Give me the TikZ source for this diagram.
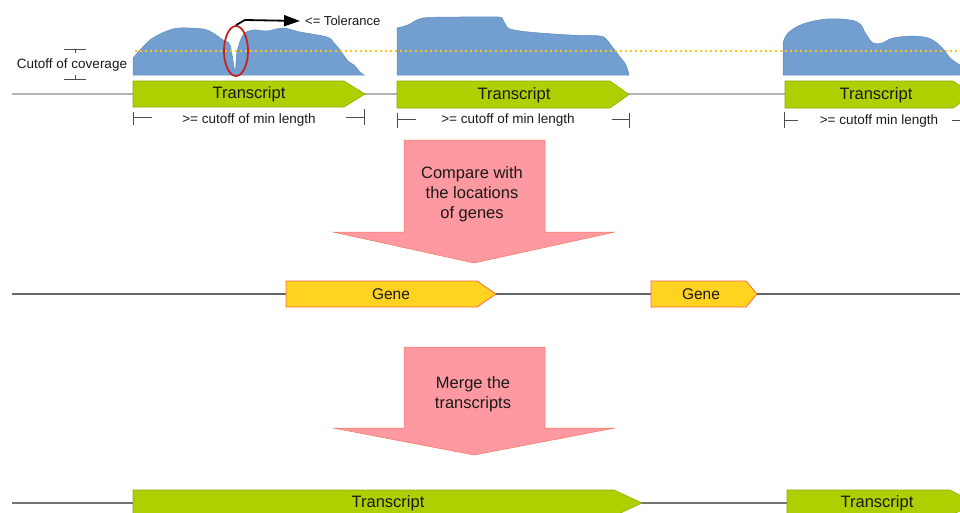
\documentclass[tikz,border=0pt]{standalone}
\usepackage{fontspec}
\setmainfont{Liberation Sans}
\usetikzlibrary{arrows.meta, shapes.geometric, positioning}

\definecolor{trgreen}{HTML}{AECF00}
\definecolor{trborder}{HTML}{8CAE00}
\definecolor{covblue}{HTML}{729FCF}
\definecolor{covborder}{HTML}{5F8DC2}
\definecolor{cutyellow}{HTML}{FFC61A}
\definecolor{ringred}{HTML}{C9211E}
\definecolor{stepfill}{HTML}{FF99A1}
\definecolor{stepborder}{HTML}{F2785A}
\definecolor{genefill}{HTML}{FFD320}
\definecolor{geneborder}{HTML}{FF6A3D}
\definecolor{axisgray}{HTML}{B3B3B3}

\tikzset{
  trshape/.style={fill=trgreen, draw=trborder, line width=0.6pt},
  geneshape/.style={fill=genefill, draw=geneborder, line width=0.8pt},
  blob/.style={fill=covblue, draw=covborder, line width=0.5pt},
  bigarrow/.style={fill=stepfill, draw=stepborder, line width=0.5pt},
  axisline/.style={draw=axisgray, line width=1.2pt},
  dimline/.style={draw=black!70, line width=0.7pt},
  trlabel/.style={font=\fontsize{16.5}{20}\selectfont, text=black!90, inner sep=0pt},
  smalllabel/.style={font=\fontsize{13.5}{16}\selectfont, text=black!90, inner sep=0pt},
  steplabel/.style={font=\fontsize{16.5}{20}\selectfont, text=black!90, align=center, inner sep=0pt}
}

\begin{document}
\begin{tikzpicture}[x=1pt,y=-1pt]
  \useasboundingbox (0,0) rectangle (960,512);

  % axis lines
  \coordinate (ax1s) at (12,94);  \coordinate (ax1e) at (960,94);
  \coordinate (ax2s) at (12,294); \coordinate (ax2e) at (960,294);
  \coordinate (ax3s) at (12,503); \coordinate (ax3e) at (960,503);
  \draw[axisline] (ax1s) -- (ax1e);
  \draw[draw=black!60, line width=1.2pt] (ax2s) -- (ax2e);
  \draw[draw=black!55, line width=1.2pt] (ax3s) -- (ax3e);

  % coverage
  \draw[blob] (133,75) -- plot[smooth, tension=0.55] coordinates {(133,58) (150,40) (167,31) (180,28) (203,29) (213,33) (223,40) (230,45) (235,71) (237,52) (243,35) (253,30) (267,31) (283,28) (300,32) (327,37) (334,43) (340,50) (348,61) (354,65) (360,72) (364,75)} -- cycle;
  \draw[blob] (397,75) -- plot[smooth, tension=0.5] coordinates {(397,28) (408,25) (423,18) (460,17) (498,17) (503,20) (508,28) (520,31) (540,33) (570,35) (600,36) (607,40) (613,48) (620,57) (626,65) (629,75)} -- cycle;
  \draw[blob] (783,75) -- plot[smooth, tension=0.6] coordinates {(783,43) (788,33) (803,24) (827,19) (850,20) (860,24) (866,34) (873,43) (882,43) (893,38) (913,36) (928,38) (937,43) (944,50) (950,58) (960,65)} -- (960,75) -- cycle;
  \draw[cutyellow, line width=2pt, dash pattern=on 2pt off 3pt] (135,51) -- (960,51);

  % tolerance
  \node[draw=ringred, line width=1.8pt, ellipse, minimum width=24pt, minimum height=50pt, inner sep=0pt] (ring) at (236,51) {};
  \node[smalllabel, font=\fontsize{13}{16}\selectfont, anchor=west, inner sep=5pt] (tol) at (300,21) {<= Tolerance};
  \draw[line width=1.8pt, -{Triangle[length=16pt, width=11pt]}] (ring.north) -- (245,20) -- (tol.west);

  % cutoff of coverage
  \node[smalllabel] (cov) at (72,65) {Cutoff of coverage};
  \draw[dimline] (64,49) -- (86,49);
  \draw[dimline] (75,49) -- (75,53);
  \draw[dimline] (75,75) -- (75,79);
  \draw[dimline] (64,79) -- (86,79);

  % transcripts
  \draw[trshape] (133,81) -- (344,81) -- (365,94) -- (344,107) -- (133,107) -- cycle;
  \node[trlabel] (tr1) at (249,94) {Transcript};
  \draw[trshape] (397,81) -- (610,81) -- (629,94.5) -- (610,108) -- (397,108) -- cycle;
  \node[trlabel] (tr2) at (514,95) {Transcript};
  \draw[trshape] (785,81) -- (953,81) -- (973,94.5) -- (953,108) -- (785,108) -- cycle;
  \node[trlabel] (tr3) at (876,95) {Transcript};

  % min length
  \node[smalllabel] (len1) at (249,120) {>= cutoff of min length};
  \draw[dimline] (133,112) -- (133,125);
  \draw[dimline] (133,117) -- (152,117);
  \draw[dimline] (346,117) -- (364,117);
  \draw[dimline] (364,109) -- (364,125);
  \node[smalllabel] (len2) at (508,120) {>= cutoff of min length};
  \draw[dimline] (397,113) -- (397,128);
  \draw[dimline] (397,119) -- (416,119);
  \draw[dimline] (612,119) -- (629,119);
  \draw[dimline] (629,113) -- (629,128);
  \node[smalllabel] (len3) at (879,121) {>= cutoff min length};
  \draw[dimline] (784,112) -- (784,128);
  \draw[dimline] (784,120) -- (798,120);
  \draw[dimline] (952,120) -- (960,120);

  % compare step
  \draw[bigarrow] (404,140) -- (545,140) -- (545,232) -- (615,232) -- (474,263) -- (333,232) -- (404,232) -- cycle;
  \node[steplabel] (cmp) at (472,194) {Compare with\\the locations\\of genes};

  % genes
  \draw[geneshape] (286,281) -- (477,281) -- (496,294) -- (477,307) -- (286,307) -- cycle;
  \node[trlabel, font=\fontsize{15.5}{18}\selectfont] (g1) at (391,294) {Gene};
  \draw[geneshape] (651,281) -- (746,281) -- (757,294) -- (746,307) -- (651,307) -- cycle;
  \node[trlabel, font=\fontsize{15.5}{18}\selectfont] (g2) at (701,294) {Gene};

  % merge step
  \draw[bigarrow] (404,347) -- (545,347) -- (545,428) -- (615,428) -- (474,455) -- (333,428) -- (404,428) -- cycle;
  \node[steplabel] (mrg) at (473,394) {Merge the\\transcripts};

  % merged transcripts
  \draw[trshape] (133,490) -- (614,490) -- (642,503) -- (614,516) -- (133,516) -- cycle;
  \node[trlabel] (tr4) at (388,503) {Transcript};
  \draw[trshape] (787,490) -- (950,490) -- (975,503) -- (950,516) -- (787,516) -- cycle;
  \node[trlabel] (tr5) at (877,503) {Transcript};
\end{tikzpicture}
\end{document}
